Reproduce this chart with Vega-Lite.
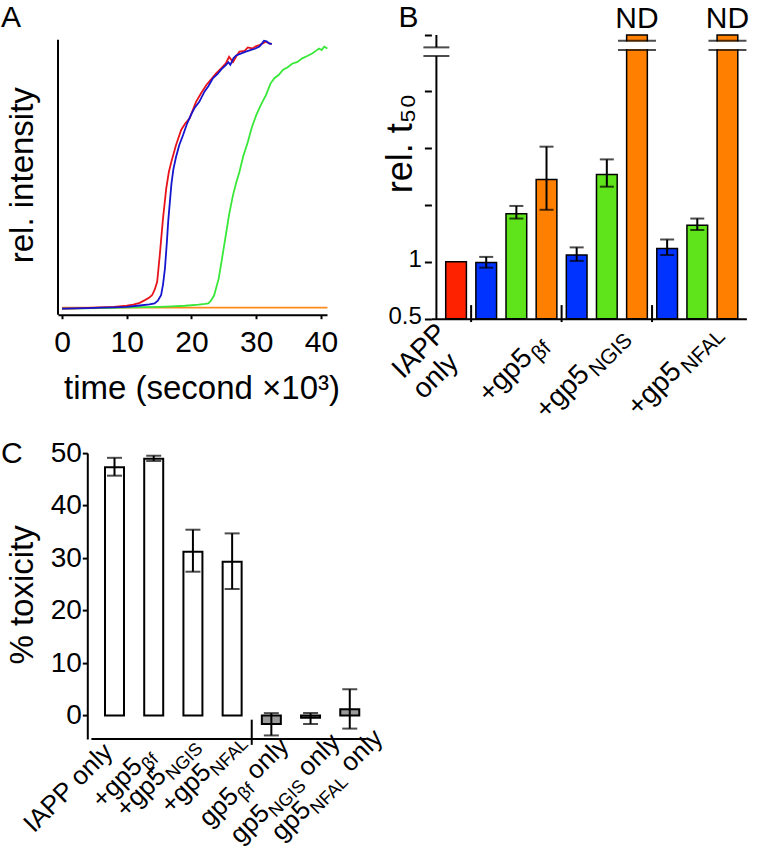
{
"$schema": "https://vega.github.io/schema/vega-lite/v6.json",
"background": "white",
"padding": {"left": 1, "top": 2, "right": 0, "bottom": 0},
"config": {
  "font": "Liberation Sans",
  "view": {"stroke": null},
  "axis": {"grid": false, "domainColor": "black", "tickColor": "black", "labelColor": "black", "titleColor": "black", "titleFontWeight": "normal", "domainWidth": 2, "tickWidth": 2, "labelFont": "Liberation Sans", "titleFont": "Liberation Sans"},
  "title": {"fontWeight": "normal", "font": "Liberation Sans", "fontSize": 30, "color": "black"},
  "text": {"font": "Liberation Sans", "color": "black"}
},
"resolve": {"scale": {"color": "independent"}},
"datasets": {
  "curves": [
    {"s":"orange","t":0,"v":0.004},{"s":"orange","t":10,"v":0.004},{"s":"orange","t":20,"v":0.004},{"s":"orange","t":30,"v":0.004},{"s":"orange","t":41,"v":0.004},
    {"s":"green","t":0,"v":0},{"s":"green","t":3,"v":0.001},{"s":"green","t":6,"v":0.002},{"s":"green","t":9,"v":0.004},{"s":"green","t":10.8,"v":0.005},{"s":"green","t":13,"v":0.006},{"s":"green","t":15,"v":0.007},{"s":"green","t":17,"v":0.009},{"s":"green","t":19,"v":0.011},{"s":"green","t":21.1,"v":0.015},{"s":"green","t":22.1,"v":0.018},{"s":"green","t":22.6,"v":0.02},{"s":"green","t":23.0,"v":0.03},{"s":"green","t":23.5,"v":0.05},{"s":"green","t":24.2,"v":0.112},{"s":"green","t":24.6,"v":0.17},{"s":"green","t":25.0,"v":0.23},{"s":"green","t":25.3,"v":0.274},{"s":"green","t":25.8,"v":0.35},{"s":"green","t":26.4,"v":0.423},{"s":"green","t":26.9,"v":0.47},{"s":"green","t":27.4,"v":0.51},{"s":"green","t":28.0,"v":0.57},{"s":"green","t":28.7,"v":0.622},{"s":"green","t":29.3,"v":0.675},{"s":"green","t":30.0,"v":0.722},{"s":"green","t":30.7,"v":0.76},{"s":"green","t":31.5,"v":0.797},{"s":"green","t":32.2,"v":0.84},{"s":"green","t":32.8,"v":0.86},{"s":"green","t":33.5,"v":0.873},{"s":"green","t":34.1,"v":0.891},{"s":"green","t":34.8,"v":0.9},{"s":"green","t":35.6,"v":0.915},{"s":"green","t":36.3,"v":0.92},{"s":"green","t":37.1,"v":0.934},{"s":"green","t":37.8,"v":0.942},{"s":"green","t":38.7,"v":0.953},{"s":"green","t":39.2,"v":0.962},{"s":"green","t":39.7,"v":0.971},{"s":"green","t":40.1,"v":0.965},{"s":"green","t":40.5,"v":0.978},{"s":"green","t":41.0,"v":0.971},
    {"s":"red","t":0,"v":0},{"s":"red","t":2,"v":0.001},{"s":"red","t":4,"v":0.003},{"s":"red","t":6,"v":0.005},{"s":"red","t":8,"v":0.007},{"s":"red","t":10,"v":0.011},{"s":"red","t":11,"v":0.015},{"s":"red","t":12,"v":0.022},{"s":"red","t":12.8,"v":0.032},{"s":"red","t":13.5,"v":0.042},{"s":"red","t":13.9,"v":0.05},{"s":"red","t":14.3,"v":0.07},{"s":"red","t":14.7,"v":0.1},{"s":"red","t":15.1,"v":0.2},{"s":"red","t":15.6,"v":0.337},{"s":"red","t":16.1,"v":0.449},{"s":"red","t":16.5,"v":0.51},{"s":"red","t":16.9,"v":0.549},{"s":"red","t":17.6,"v":0.61},{"s":"red","t":18.4,"v":0.667},{"s":"red","t":19.0,"v":0.69},{"s":"red","t":19.7,"v":0.71},{"s":"red","t":20.7,"v":0.772},{"s":"red","t":21.5,"v":0.805},{"s":"red","t":22.3,"v":0.835},{"s":"red","t":23.0,"v":0.855},{"s":"red","t":23.8,"v":0.878},{"s":"red","t":24.5,"v":0.895},{"s":"red","t":25.3,"v":0.915},{"s":"red","t":25.8,"v":0.94},{"s":"red","t":26.4,"v":0.92},{"s":"red","t":27.0,"v":0.945},{"s":"red","t":27.4,"v":0.959},{"s":"red","t":28.2,"v":0.962},{"s":"red","t":28.7,"v":0.975},{"s":"red","t":29.4,"v":0.971},{"s":"red","t":30.0,"v":0.98},{"s":"red","t":30.5,"v":0.984},{"s":"red","t":31.0,"v":0.99},{"s":"red","t":31.5,"v":0.996},{"s":"red","t":32.0,"v":0.99},{"s":"red","t":32.4,"v":0.988},
    {"s":"blue","t":0,"v":0},{"s":"blue","t":2,"v":0.001},{"s":"blue","t":4,"v":0.002},{"s":"blue","t":6,"v":0.004},{"s":"blue","t":8,"v":0.005},{"s":"blue","t":10,"v":0.007},{"s":"blue","t":12,"v":0.012},{"s":"blue","t":13.5,"v":0.016},{"s":"blue","t":14.3,"v":0.02},{"s":"blue","t":14.8,"v":0.03},{"s":"blue","t":15.3,"v":0.05},{"s":"blue","t":15.6,"v":0.09},{"s":"blue","t":15.9,"v":0.15},{"s":"blue","t":16.2,"v":0.25},{"s":"blue","t":16.4,"v":0.325},{"s":"blue","t":16.7,"v":0.41},{"s":"blue","t":16.9,"v":0.466},{"s":"blue","t":17.2,"v":0.52},{"s":"blue","t":17.6,"v":0.565},{"s":"blue","t":18.1,"v":0.61},{"s":"blue","t":18.7,"v":0.648},{"s":"blue","t":19.3,"v":0.69},{"s":"blue","t":19.9,"v":0.722},{"s":"blue","t":20.5,"v":0.75},{"s":"blue","t":21.2,"v":0.772},{"s":"blue","t":22.0,"v":0.81},{"s":"blue","t":22.6,"v":0.83},{"s":"blue","t":23.3,"v":0.86},{"s":"blue","t":24.0,"v":0.875},{"s":"blue","t":24.6,"v":0.893},{"s":"blue","t":25.3,"v":0.909},{"s":"blue","t":25.7,"v":0.92},{"s":"blue","t":26.0,"v":0.91},{"s":"blue","t":26.5,"v":0.935},{"s":"blue","t":26.9,"v":0.945},{"s":"blue","t":27.6,"v":0.952},{"s":"blue","t":28.4,"v":0.959},{"s":"blue","t":29.2,"v":0.966},{"s":"blue","t":29.8,"v":0.97},{"s":"blue","t":30.5,"v":0.978},{"s":"blue","t":30.9,"v":0.99},{"s":"blue","t":31.2,"v":1.0},{"s":"blue","t":31.6,"v":0.998},{"s":"blue","t":32.0,"v":0.99},{"s":"blue","t":32.4,"v":0.987}
  ],
  "bars": [
    {"pos":1,"c":"r","v":1.0},
    {"pos":2,"c":"b","v":0.99,"lo":0.93,"hi":1.06},
    {"pos":3,"c":"g","v":1.79,"lo":1.69,"hi":1.97},
    {"pos":4,"c":"o","v":2.72,"lo":1.88,"hi":4.05},
    {"pos":5,"c":"b","v":1.085,"lo":1.01,"hi":1.19},
    {"pos":6,"c":"g","v":2.89,"lo":2.49,"hi":3.47},
    {"pos":7,"c":"o","v":15.75,"nd":"ND"},
    {"pos":8,"c":"b","v":1.175,"lo":1.085,"hi":1.31},
    {"pos":9,"c":"g","v":1.56,"lo":1.47,"hi":1.69},
    {"pos":10,"c":"o","v":15.75,"nd":"ND"}
  ],
  "sepB": [{"p":1.5},{"p":4.5},{"p":7.5}],
  "labB": [
    {"pos":1,"main":"IAPP\nonly","sub":""},
    {"pos":3,"main":"+gp5","sub":"βf"},
    {"pos":6,"main":"+gp5","sub":"NGIS"},
    {"pos":9,"main":"+gp5","sub":"NFAL"}
  ],
  "tox": [
    {"pos":1,"k":"m","v":47.3,"lo":45.7,"hi":49.1},
    {"pos":2,"k":"m","v":48.9,"lo":48.5,"hi":49.5},
    {"pos":3,"k":"m","v":31.2,"lo":27.4,"hi":35.4},
    {"pos":4,"k":"m","v":29.3,"lo":24.1,"hi":34.7},
    {"pos":5,"k":"g","v":-1.6,"lo":-3.8,"hi":0.45},
    {"pos":6,"k":"g","v":-0.45,"lo":-1.6,"hi":0.45},
    {"pos":7,"k":"g","v":1.2,"lo":-2.5,"hi":5.0}
  ],
  "labC": [
    {"pos":1,"main":"IAPP only","sub":"","tail":""},
    {"pos":2,"main":"+gp5","sub":"βf","tail":""},
    {"pos":3,"main":"+gp5","sub":"NGIS","tail":""},
    {"pos":4,"main":"+gp5","sub":"NFAL","tail":""},
    {"pos":5,"main":"gp5","sub":"βf","tail":"only"},
    {"pos":6,"main":"gp5","sub":"NGIS","tail":"only"},
    {"pos":7,"main":"gp5","sub":"NFAL","tail":"only"}
  ]
},
"concat": [
  {
    "width": 269, "height": 279.7,
    "title": {"text": "A", "anchor": "start", "frame": "group", "dx": -57, "dy": 27.2, "offset": 5.3, "baseline": "alphabetic", "fontSize": 30},
    "layer": [
      {"data": {"name": "curves"},
       "mark": {"type": "line", "strokeWidth": 1.8},
       "encoding": {
         "x": {"field": "t", "type": "quantitative", "scale": {"domain": [-0.62, 40.93], "nice": false, "zero": false},
               "axis": {"values": [0,10,20,30,40], "tickSize": 4, "labelFontSize": 30, "labelPadding": 9, "labelFlush": false, "labelOverlap": false, "title": "time (second ×10³)", "titleFontSize": 33, "titleX": 143.5, "titleY": 84, "titleBaseline": "alphabetic", "titleAlign": "center"}},
         "y": {"field": "v", "type": "quantitative", "scale": {"domain": [-0.0224, 1.0213], "nice": false, "zero": false},
               "axis": {"domain": false, "ticks": false, "labels": false, "title": "rel. intensity", "titleFontSize": 33, "titleX": -25.6, "titleY": 139.7, "titleAngle": 270, "titleBaseline": "alphabetic", "titleAlign": "center"}},
         "color": {"field": "s", "type": "nominal", "sort": ["orange","green","red","blue"], "scale": {"domain": ["orange","green","red","blue"], "range": ["#ff8a1c","#38e838","#e8141b","#1515d0"]}, "legend": null}
       }},
      {"data": {"values": [{}]},
       "mark": {"type": "rule", "strokeWidth": 2, "color": "black"},
       "encoding": {"x": {"datum": -0.62}, "y": {"datum": -0.0224}, "y2": {"datum": 1.0037}}}
    ]
  },
  {
    "width": 315, "height": 283.7,
    "title": {"text": "B", "anchor": "start", "frame": "group", "dx": -33, "dy": 60, "offset": 6.3, "baseline": "alphabetic", "fontSize": 30},
    "layer": [
      {"data": {"name": "bars"},
       "mark": {"type": "bar", "size": 20.7, "stroke": "black", "strokeWidth": 1.5},
       "encoding": {
         "x": {"field": "pos", "type": "quantitative", "scale": {"domain": [0.348, 10.463], "nice": false, "zero": false},
               "axis": {"domain": true, "ticks": false, "labels": false, "title": null}},
         "y": {"field": "v", "type": "quantitative", "scale": {"type": "log", "base": 2, "domain": [0.5, 15.75], "nice": false},
               "axis": {"domain": false, "values": [0.5,1,2,4,8,15.75], "labelExpr": "datum.value == 0.5 ? '0.5' : (datum.value == 1 ? '1' : '')", "tickSize": 7, "labelFontSize": 24, "labelPadding": 3, "labelFlush": false, "labelOffset": -2, "labelOverlap": false, "title": "rel. t₅₀", "titleFontSize": 36, "titleX": -20, "titleY": 108, "titleAngle": 270, "titleBaseline": "alphabetic", "titleAlign": "center"}},
         "y2": {"datum": 0.5},
         "color": {"field": "c", "type": "nominal", "scale": {"domain": ["r","b","g","o"], "range": ["#ff2200","#0033ff","#5fe31a","#ff8000"]}, "legend": null}
       }},
      {"data": {"name": "bars"}, "transform": [{"filter": "isValid(datum.lo)"}],
       "mark": {"type": "rule", "strokeWidth": 2, "color": "black"},
       "encoding": {"x": {"field": "pos", "type": "quantitative"}, "y": {"field": "lo", "type": "quantitative"}, "y2": {"field": "hi"}}},
      {"data": {"name": "bars"}, "transform": [{"filter": "isValid(datum.lo)"}],
       "mark": {"type": "tick", "orient": "horizontal", "size": 14, "thickness": 2, "color": "black"},
       "encoding": {"x": {"field": "pos", "type": "quantitative"}, "y": {"field": "lo", "type": "quantitative"}}},
      {"data": {"name": "bars"}, "transform": [{"filter": "isValid(datum.lo)"}],
       "mark": {"type": "tick", "orient": "horizontal", "size": 14, "thickness": 2, "color": "black"},
       "encoding": {"x": {"field": "pos", "type": "quantitative"}, "y": {"field": "hi", "type": "quantitative"}}},
      {"data": {"name": "bars"}, "transform": [{"filter": "datum.nd == 'ND'"}],
       "mark": {"type": "bar", "size": 25, "color": "white"},
       "encoding": {"x": {"field": "pos", "type": "quantitative"}, "y": {"datum": 13.25}, "y2": {"datum": 14.55}}},
      {"data": {"name": "bars"}, "transform": [{"filter": "datum.nd == 'ND'"}],
       "mark": {"type": "tick", "orient": "horizontal", "size": 38, "thickness": 2, "color": "black"},
       "encoding": {"x": {"field": "pos", "type": "quantitative"}, "y": {"datum": 13.12}}},
      {"data": {"name": "bars"}, "transform": [{"filter": "datum.nd == 'ND'"}],
       "mark": {"type": "tick", "orient": "horizontal", "size": 38, "thickness": 2, "color": "black"},
       "encoding": {"x": {"field": "pos", "type": "quantitative"}, "y": {"datum": 14.69}}},
      {"data": {"name": "bars"}, "transform": [{"filter": "datum.nd == 'ND'"}],
       "mark": {"type": "text", "fontSize": 30, "align": "center", "baseline": "alphabetic", "dy": -7.5},
       "encoding": {"x": {"field": "pos", "type": "quantitative"}, "y": {"datum": 15.75}, "text": {"field": "nd"}}},
      {"data": {"values": [{}]},
       "mark": {"type": "rule", "strokeWidth": 2, "color": "black"},
       "encoding": {"x": {"datum": 0.348}, "y": {"datum": 0.5}, "y2": {"datum": 12.2}}},
      {"data": {"values": [{}]},
       "mark": {"type": "rule", "strokeWidth": 2, "color": "black"},
       "encoding": {"x": {"datum": 0.348}, "y": {"datum": 13.55}, "y2": {"datum": 15.75}}},
      {"data": {"values": [{}]},
       "mark": {"type": "tick", "orient": "horizontal", "size": 26, "thickness": 2, "color": "black"},
       "encoding": {"x": {"datum": 0.348}, "y": {"datum": 12.2}}},
      {"data": {"values": [{}]},
       "mark": {"type": "tick", "orient": "horizontal", "size": 26, "thickness": 2, "color": "black"},
       "encoding": {"x": {"datum": 0.348}, "y": {"datum": 13.55}}},
      {"data": {"name": "sepB"},
       "mark": {"type": "rule", "strokeWidth": 2, "color": "black"},
       "encoding": {"x": {"field": "p", "type": "quantitative"}, "y": {"datum": 0.48}, "y2": {"datum": 0.59}}},
      {"data": {"name": "labB"}, "transform": [{"filter": "datum.pos == 1"}],
       "mark": {"type": "text", "align": "left", "baseline": "alphabetic", "fontSize": 28, "lineBreak": "\n", "lineHeight": 29, "dx": -80.6, "dy": 5.7},
       "encoding": {"x": {"field": "pos", "type": "quantitative"}, "y": {"datum": 0.5}, "text": {"field": "main"}, "angle": {"value": 315}}},
      {"data": {"name": "labB"}, "transform": [{"filter": "datum.pos == 3"}],
       "mark": {"type": "text", "align": "right", "baseline": "alphabetic", "fontSize": 28, "dx": -16.3, "dy": 40.9},
       "encoding": {"x": {"field": "pos", "type": "quantitative"}, "y": {"datum": 0.5}, "text": {"field": "main"}, "angle": {"value": 315}}},
      {"data": {"name": "labB"}, "transform": [{"filter": "datum.pos == 3"}],
       "mark": {"type": "text", "align": "left", "baseline": "alphabetic", "fontSize": 21, "dx": -14.3, "dy": 46.9},
       "encoding": {"x": {"field": "pos", "type": "quantitative"}, "y": {"datum": 0.5}, "text": {"field": "sub"}, "angle": {"value": 315}}},
      {"data": {"name": "labB"}, "transform": [{"filter": "datum.pos == 6"}],
       "mark": {"type": "text", "align": "right", "baseline": "alphabetic", "fontSize": 28, "dx": -51.6, "dy": 29},
       "encoding": {"x": {"field": "pos", "type": "quantitative"}, "y": {"datum": 0.5}, "text": {"field": "main"}, "angle": {"value": 315}}},
      {"data": {"name": "labB"}, "transform": [{"filter": "datum.pos == 6"}],
       "mark": {"type": "text", "align": "left", "baseline": "alphabetic", "fontSize": 21, "dx": -48.6, "dy": 35},
       "encoding": {"x": {"field": "pos", "type": "quantitative"}, "y": {"datum": 0.5}, "text": {"field": "sub"}, "angle": {"value": 315}}},
      {"data": {"name": "labB"}, "transform": [{"filter": "datum.pos == 9"}],
       "mark": {"type": "text", "align": "right", "baseline": "alphabetic", "fontSize": 28, "dx": -48.4, "dy": 28},
       "encoding": {"x": {"field": "pos", "type": "quantitative"}, "y": {"datum": 0.5}, "text": {"field": "main"}, "angle": {"value": 315}}},
      {"data": {"name": "labB"}, "transform": [{"filter": "datum.pos == 9"}],
       "mark": {"type": "text", "align": "left", "baseline": "alphabetic", "fontSize": 21, "dx": -45.4, "dy": 34},
       "encoding": {"x": {"field": "pos", "type": "quantitative"}, "y": {"datum": 0.5}, "text": {"field": "sub"}, "angle": {"value": 315}}}
    ]
  },
  {
    "width": 313.7, "height": 286,
    "title": {"text": "C", "anchor": "start", "frame": "group", "dx": -57, "dy": 33, "offset": -21, "baseline": "alphabetic", "fontSize": 30},
    "layer": [
      {"data": {"name": "tox"},
       "mark": {"type": "bar", "size": 19, "stroke": "black", "strokeWidth": 2},
       "encoding": {
         "x": {"field": "pos", "type": "quantitative", "scale": {"domain": [-0.3136, 7.432], "nice": false, "zero": false}, "axis": null},
         "y": {"field": "v", "type": "quantitative", "scale": {"domain": [-4.5, 50], "nice": false, "zero": false},
               "axis": {"values": [0,10,20,30,40,50], "offset": -29.3, "tickSize": 5, "labelFontSize": 28, "labelPadding": 1, "labelFlush": false, "labelOverlap": false, "title": "% toxicity", "titleFontSize": 33, "titleX": -55, "titleY": 141.3, "titleAngle": 270, "titleBaseline": "alphabetic", "titleAlign": "center"}},
         "y2": {"datum": 0},
         "color": {"field": "k", "type": "nominal", "scale": {"domain": ["m","g"], "range": ["#ffffff","#9a9a9a"]}, "legend": null}
       }},
      {"data": {"name": "tox"},
       "mark": {"type": "rule", "strokeWidth": 2, "color": "black"},
       "encoding": {"x": {"field": "pos", "type": "quantitative"}, "y": {"field": "lo", "type": "quantitative"}, "y2": {"field": "hi"}}},
      {"data": {"name": "tox"},
       "mark": {"type": "tick", "orient": "horizontal", "size": 15, "thickness": 2, "color": "black"},
       "encoding": {"x": {"field": "pos", "type": "quantitative"}, "y": {"field": "lo", "type": "quantitative"}}},
      {"data": {"name": "tox"},
       "mark": {"type": "tick", "orient": "horizontal", "size": 15, "thickness": 2, "color": "black"},
       "encoding": {"x": {"field": "pos", "type": "quantitative"}, "y": {"field": "hi", "type": "quantitative"}}},
      {"data": {"values": [{}]},
       "mark": {"type": "rule", "strokeWidth": 2, "color": "black"},
       "encoding": {"x": {"datum": 0.41}, "x2": {"datum": 7.432}, "y": {"datum": -4.5}}},
      {"data": {"values": [{}]},
       "mark": {"type": "rule", "strokeWidth": 2, "color": "black"},
       "encoding": {"x": {"datum": 4.5}, "y": {"datum": -0.8}, "y2": {"datum": -5.6}}},
      {"data": {"name": "labC"}, "transform": [{"filter": "datum.pos == 1"}],
       "mark": {"type": "text", "align": "right", "baseline": "alphabetic", "fontSize": 26, "dx": -10.3, "dy": 10},
       "encoding": {"x": {"field": "pos", "type": "quantitative"}, "y": {"datum": -4.5}, "text": {"field": "main"}, "angle": {"value": 315}}},
      {"data": {"name": "labC"}, "transform": [{"filter": "datum.pos == 2"}],
       "mark": {"type": "text", "align": "right", "baseline": "alphabetic", "fontSize": 26, "dx": -27.4, "dy": 13.3},
       "encoding": {"x": {"field": "pos", "type": "quantitative"}, "y": {"datum": -4.5}, "text": {"field": "main"}, "angle": {"value": 315}}},
      {"data": {"name": "labC"}, "transform": [{"filter": "datum.pos == 2"}],
       "mark": {"type": "text", "align": "left", "baseline": "alphabetic", "fontSize": 18, "dx": -26.4, "dy": 19.3},
       "encoding": {"x": {"field": "pos", "type": "quantitative"}, "y": {"datum": -4.5}, "text": {"field": "sub"}, "angle": {"value": 315}}},
      {"data": {"name": "labC"}, "transform": [{"filter": "datum.pos == 3"}],
       "mark": {"type": "text", "align": "right", "baseline": "alphabetic", "fontSize": 26, "dx": -44.9, "dy": 9.3},
       "encoding": {"x": {"field": "pos", "type": "quantitative"}, "y": {"datum": -4.5}, "text": {"field": "main"}, "angle": {"value": 315}}},
      {"data": {"name": "labC"}, "transform": [{"filter": "datum.pos == 3"}],
       "mark": {"type": "text", "align": "left", "baseline": "alphabetic", "fontSize": 18, "dx": -43.9, "dy": 15.3},
       "encoding": {"x": {"field": "pos", "type": "quantitative"}, "y": {"datum": -4.5}, "text": {"field": "sub"}, "angle": {"value": 315}}},
      {"data": {"name": "labC"}, "transform": [{"filter": "datum.pos == 4"}],
       "mark": {"type": "text", "align": "right", "baseline": "alphabetic", "fontSize": 26, "dx": -38.2, "dy": 10.3},
       "encoding": {"x": {"field": "pos", "type": "quantitative"}, "y": {"datum": -4.5}, "text": {"field": "main"}, "angle": {"value": 315}}},
      {"data": {"name": "labC"}, "transform": [{"filter": "datum.pos == 4"}],
       "mark": {"type": "text", "align": "left", "baseline": "alphabetic", "fontSize": 18, "dx": -37.2, "dy": 16.3},
       "encoding": {"x": {"field": "pos", "type": "quantitative"}, "y": {"datum": -4.5}, "text": {"field": "sub"}, "angle": {"value": 315}}},
      {"data": {"name": "labC"}, "transform": [{"filter": "datum.pos == 5"}],
       "mark": {"type": "text", "align": "right", "baseline": "alphabetic", "fontSize": 26, "dx": -63.5, "dy": 19},
       "encoding": {"x": {"field": "pos", "type": "quantitative"}, "y": {"datum": -4.5}, "text": {"field": "main"}, "angle": {"value": 315}}},
      {"data": {"name": "labC"}, "transform": [{"filter": "datum.pos == 5"}],
       "mark": {"type": "text", "align": "left", "baseline": "alphabetic", "fontSize": 18, "dx": -62.5, "dy": 25},
       "encoding": {"x": {"field": "pos", "type": "quantitative"}, "y": {"datum": -4.5}, "text": {"field": "sub"}, "angle": {"value": 315}}},
      {"data": {"name": "labC"}, "transform": [{"filter": "datum.pos == 5"}],
       "mark": {"type": "text", "align": "left", "baseline": "alphabetic", "fontSize": 26, "dx": -40.2, "dy": 19},
       "encoding": {"x": {"field": "pos", "type": "quantitative"}, "y": {"datum": -4.5}, "text": {"field": "tail"}, "angle": {"value": 315}}},
      {"data": {"name": "labC"}, "transform": [{"filter": "datum.pos == 6"}],
       "mark": {"type": "text", "align": "right", "baseline": "alphabetic", "fontSize": 26, "dx": -81.3, "dy": 25.2},
       "encoding": {"x": {"field": "pos", "type": "quantitative"}, "y": {"datum": -4.5}, "text": {"field": "main"}, "angle": {"value": 315}}},
      {"data": {"name": "labC"}, "transform": [{"filter": "datum.pos == 6"}],
       "mark": {"type": "text", "align": "left", "baseline": "alphabetic", "fontSize": 18, "dx": -80.3, "dy": 31.2},
       "encoding": {"x": {"field": "pos", "type": "quantitative"}, "y": {"datum": -4.5}, "text": {"field": "sub"}, "angle": {"value": 315}}},
      {"data": {"name": "labC"}, "transform": [{"filter": "datum.pos == 6"}],
       "mark": {"type": "text", "align": "left", "baseline": "alphabetic", "fontSize": 26, "dx": -29.3, "dy": 25.2},
       "encoding": {"x": {"field": "pos", "type": "quantitative"}, "y": {"datum": -4.5}, "text": {"field": "tail"}, "angle": {"value": 315}}},
      {"data": {"name": "labC"}, "transform": [{"filter": "datum.pos == 7"}],
       "mark": {"type": "text", "align": "right", "baseline": "alphabetic", "fontSize": 26, "dx": -77.6, "dy": 24.6},
       "encoding": {"x": {"field": "pos", "type": "quantitative"}, "y": {"datum": -4.5}, "text": {"field": "main"}, "angle": {"value": 315}}},
      {"data": {"name": "labC"}, "transform": [{"filter": "datum.pos == 7"}],
       "mark": {"type": "text", "align": "left", "baseline": "alphabetic", "fontSize": 18, "dx": -76.6, "dy": 30.6},
       "encoding": {"x": {"field": "pos", "type": "quantitative"}, "y": {"datum": -4.5}, "text": {"field": "sub"}, "angle": {"value": 315}}},
      {"data": {"name": "labC"}, "transform": [{"filter": "datum.pos == 7"}],
       "mark": {"type": "text", "align": "left", "baseline": "alphabetic", "fontSize": 26, "dx": -23.6, "dy": 24.6},
       "encoding": {"x": {"field": "pos", "type": "quantitative"}, "y": {"datum": -4.5}, "text": {"field": "tail"}, "angle": {"value": 315}}}
    ]
  }
],
"columns": 2,
"align": "none",
"bounds": "flush",
"spacing": {"row": 134.1, "column": 59.4}
}
